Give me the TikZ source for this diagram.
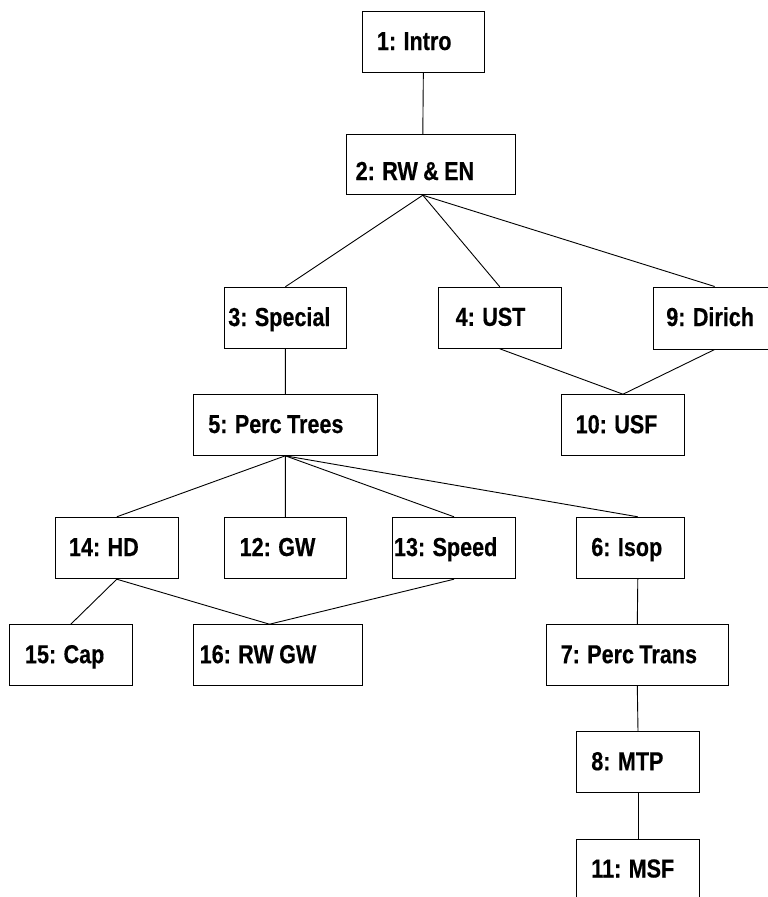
\documentclass[tikz,border=0pt]{standalone}
\usepackage{fontspec}
\newfontfamily\labfont{Liberation Sans}[FakeStretch=0.83, WordSpace=0.9, FakeBold=0.4]
\usetikzlibrary{calc}
\tikzset{
  box/.style={draw=black, line width=1pt, rectangle, inner xsep=0pt, inner ysep=0pt,
    text height=16pt, text depth=0pt, font=\labfont\bfseries\fontsize{26pt}{30pt}\selectfont},
  conn/.style={draw=black, line width=0.9pt}
}
\newcommand\lbl[3]{\makebox[#1pt][l]{\hspace{#2pt}#3}}
\begin{document}
\begin{tikzpicture}[x=1pt,y=-1pt]
\useasboundingbox (0,0) rectangle (768,897);
\clip (0,0) rectangle (768,897);
\node[box, minimum height=60.6pt] (n1) at (423.35,42) {\lbl{122.7}{15}{1: Intro}};
\node[box, minimum height=60.4pt] (n2) at (431.2,164.5) {\lbl{169}{9}{\raisebox{-7.5pt}{2: RW \& EN}}};
\node[box, minimum height=61.4pt] (n3) at (285.35,318) {\lbl{122.7}{4.3}{3: Special}};
\node[box, minimum height=61pt] (n4) at (499.8,317.8) {\lbl{123}{17.4}{4: UST}};
\node[box, minimum height=62pt] (n9) at (714.65,318) {\lbl{122.7}{13}{9: Dirich}};
\node[box, minimum height=60.6pt] (n5) at (285.3,425) {\lbl{184}{15}{5: Perc Trees}};
\node[box, minimum height=61pt] (n10) at (623,425.2) {\lbl{122.6}{14}{10: USF}};
\node[box, minimum height=61.4pt] (n14) at (116.8,548) {\lbl{123}{13.7}{14: HD}};
\node[box, minimum height=61.4pt] (n12) at (285.35,548) {\lbl{122.7}{15.7}{12: GW}};
\node[box, minimum height=61.4pt] (n13) at (454,548) {\lbl{123.4}{1.7}{13: Speed}};
\node[box, minimum height=61.4pt] (n6) at (630.5,548) {\lbl{107.6}{14.6}{6: Isop}};
\node[box, minimum height=61pt] (n15) at (70.8,655.2) {\lbl{123}{15.7}{15: Cap}};
\node[box, minimum height=61pt] (n16) at (278,655.2) {\lbl{168.6}{6}{16: RW GW}};
\node[box, minimum height=61pt] (n7) at (637.3,655.2) {\lbl{182}{14.4}{7: Perc Trans}};
\node[box, minimum height=61pt] (n8) at (638,762.2) {\lbl{122.6}{14.6}{8: MTP}};
\node[box, minimum height=61pt] (n11) at (638,869.5) {\lbl{122.6}{14.6}{11: MSF}};
\coordinate (n2t) at ($(n2.north west)+(76.6,0)$);
\coordinate (n2b) at ($(n2.south west)+(76.6,0)$);
\coordinate (n6t) at ($(n6.north west)+(61.6,0)$);
\coordinate (n6b) at ($(n6.south west)+(61.6,0)$);
\coordinate (n16t) at ($(n16.north west)+(76.3,0)$);
\draw[conn] (n1.south) -- (n2t);
\draw[conn] (n2b) -- (n3.north);
\draw[conn] (n2b) -- (n4.north);
\draw[conn] (n2b) -- (n9.north);
\draw[conn] (n3.south) -- (n5.north);
\draw[conn] (n4.south) -- (n10.north);
\draw[conn] (n9.south) -- (n10.north);
\draw[conn] (n5.south) -- (n14.north);
\draw[conn] (n5.south) -- (n12.north);
\draw[conn] (n5.south) -- (n13.north);
\draw[conn] (n5.south) -- (n6t);
\draw[conn] (n14.south) -- (n15.north);
\draw[conn] (n14.south) -- (n16t);
\draw[conn] (n13.south) -- (n16t);
\draw[conn] (n6b) -- (n7.north);
\draw[conn] (n7.south) -- (n8.north);
\draw[conn] (n8.south) -- (n11.north);
\end{tikzpicture}
\end{document}
